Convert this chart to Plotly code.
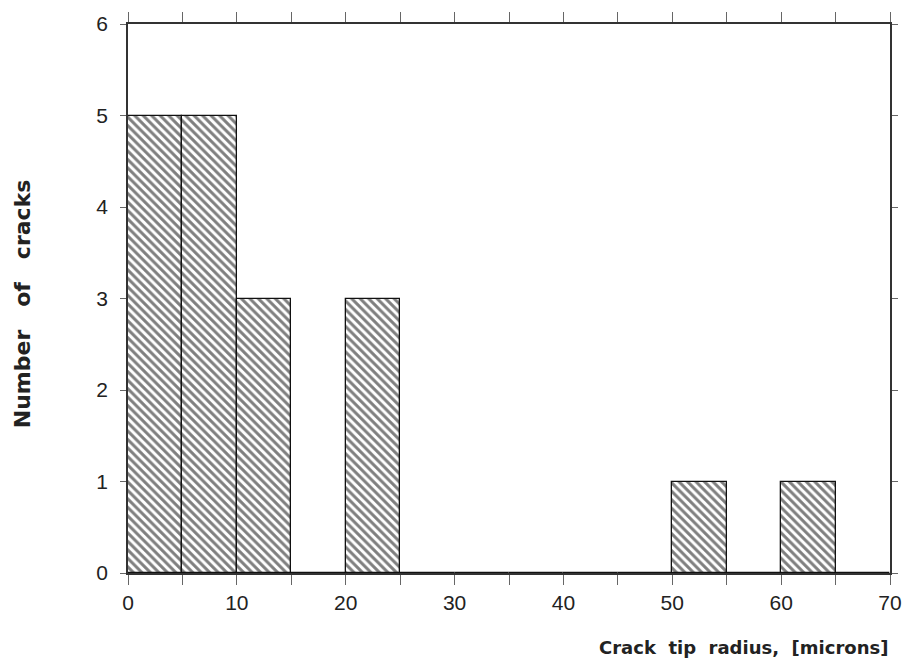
import plotly.graph_objects as go

# Data
bin_starts = [0, 5, 10, 15, 20, 25, 30, 35, 40, 45, 50, 55, 60, 65]
counts = [5, 5, 3, 0, 3, 0, 0, 0, 0, 0, 1, 0, 1, 0]
bin_width = 5
x_tick_vals = [0, 5, 10, 15, 20, 25, 30, 35, 40, 45, 50, 55, 60, 65, 70]
x_tick_text = ["0", "", "10", "", "20", "", "30", "", "40", "", "50", "", "60", "", "70"]
y_tick_vals = [0, 1, 2, 3, 4, 5, 6]

fig = go.Figure()
fig.add_trace(go.Bar(
    x=bin_starts,
    y=counts,
    width=bin_width,
    offset=0,
    marker=dict(
        color="white",
        line=dict(color="#111", width=1.3),
        pattern=dict(shape="\\", fgcolor="#000", bgcolor="white", size=6, solidity=0.5),
    ),
    showlegend=False,
))

tick_font = "Liberation Sans, Arial, sans-serif"
title_font = "DejaVu Sans, Arial, sans-serif"
fig.update_layout(
    width=914, height=665,
    paper_bgcolor="white", plot_bgcolor="white",
    margin=dict(l=128, r=21, t=21, b=92),
    font=dict(family=tick_font, color="#222", size=21),
    bargap=0,
    xaxis=dict(
        range=[0, 70], tickmode="array", tickvals=x_tick_vals, ticktext=x_tick_text,
        showline=True, linecolor="#333", linewidth=1.5, mirror="ticks",
        ticks="outside", ticklen=10, tickcolor="#666", tickwidth=1.2,
        showgrid=False, zeroline=False, tickfont=dict(size=21),
    ),
    yaxis=dict(
        range=[0, 6], tickmode="array", tickvals=y_tick_vals,
        showline=True, linecolor="#333", linewidth=1.5, mirror="ticks",
        ticks="outside", ticklen=6, tickcolor="#666", tickwidth=1.2,
        showgrid=False, zeroline=False, tickfont=dict(size=21),
        ticklabelstandoff=8,
    ),
    annotations=[
        dict(text="<b>Crack  tip  radius,  [microns]</b>", xref="paper", yref="paper",
             x=1.0, y=-0.113, xanchor="right", yanchor="top", showarrow=False,
             font=dict(size=18, family=title_font, color="#222")),
        dict(text="<b>Number   of   cracks</b>", xref="paper", yref="paper",
             x=-0.138, y=0.491, xanchor="center", yanchor="middle", textangle=-90,
             showarrow=False, font=dict(size=22, family=title_font, color="#222")),
    ],
)

fig.write_html("out.html", post_script="document.body.style.margin='0px';",
               config={"displayModeBar": False})
